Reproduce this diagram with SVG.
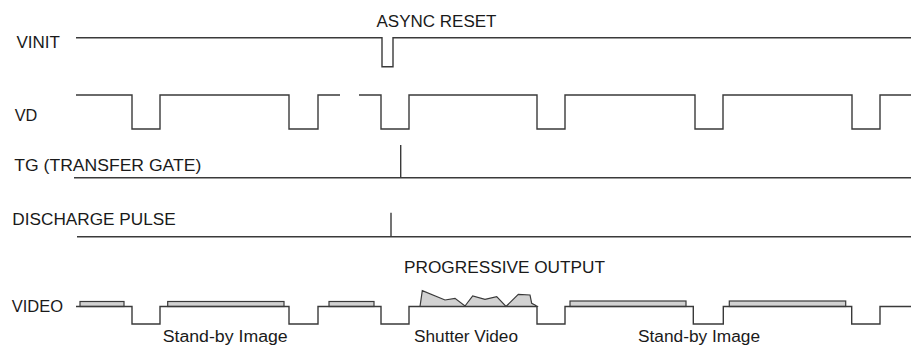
<svg xmlns="http://www.w3.org/2000/svg" width="911" height="345" viewBox="0 0 911 345">
<style>
.t{font-family:"Liberation Sans",Arial,sans-serif;font-size:16px;fill:#1a1a1a}
.w{fill:none;stroke:#3a3a3a;stroke-width:1.4}
.b{fill:#d2d2d2;stroke:#3a3a3a;stroke-width:1.2}
</style>
<rect width="911" height="345" fill="#fff"/>
<g id="labels">
<text class="t" x="16.5" y="47.5" textLength="43.5" lengthAdjust="spacingAndGlyphs">VINIT</text>
<text class="t" x="14.7" y="120.7" textLength="22.6" lengthAdjust="spacingAndGlyphs">VD</text>
<text class="t" x="376.5" y="27" textLength="120" lengthAdjust="spacingAndGlyphs">ASYNC RESET</text>
<text class="t" x="14.3" y="171" textLength="187" lengthAdjust="spacingAndGlyphs">TG (TRANSFER GATE)</text>
<text class="t" x="12.3" y="225" textLength="163.4" lengthAdjust="spacingAndGlyphs">DISCHARGE PULSE</text>
<text class="t" x="404" y="272.5" textLength="201" lengthAdjust="spacingAndGlyphs">PROGRESSIVE OUTPUT</text>
<text class="t" x="11.7" y="311.5" textLength="51.3" lengthAdjust="spacingAndGlyphs">VIDEO</text>
<text class="t" x="162.7" y="341.5" textLength="125" lengthAdjust="spacingAndGlyphs">Stand-by Image</text>
<text class="t" x="414" y="341.5" textLength="104" lengthAdjust="spacingAndGlyphs">Shutter Video</text>
<text class="t" x="638" y="341.5" textLength="122" lengthAdjust="spacingAndGlyphs">Stand-by Image</text>
</g>
<g id="vinit">
<path class="w" d="M76 37.7 H382 V66.7 H393 V37.7 H911"/>
</g>
<g id="vd">
<path class="w" d="M76 95 H132 V129 H160 V95 H289 V129 H318 V95 H340"/>
<path class="w" d="M359 95 H381 V129 H409 V95 H537 V129 H565 V95 H695 V129 H723 V95 H852 V129 H880 V95 H911"/>
</g>
<g id="tg">
<path class="w" d="M74 177.7 H911 M400.7 145 V177.7"/>
</g>
<g id="discharge">
<path class="w" d="M77 236.7 H911 M391 212.7 V236.7"/>
</g>
<g id="video">
<rect class="b" x="80" y="301.5" width="44" height="5"/>
<rect class="b" x="167.7" y="301.5" width="116.3" height="5"/>
<rect class="b" x="329" y="301.5" width="45" height="5"/>
<rect class="b" x="570" y="301" width="116" height="5.5"/>
<rect class="b" x="729.3" y="301" width="116.4" height="5.5"/>
<path class="b" d="M420 306.5 L422.3 290.7 L445 300 L455 298.3 L465 306 L472.7 296 L485 299.3 L496.7 296.7 L506 306.5 L518.3 294.3 L530 295 L531.7 303.3 L535 305 L537 306.5 Z"/>
<path class="w" d="M76 306.5 H132 V324 H160 V306.5 H289 V324 H318 V306.5 H381 V324 H409 V306.5 H537 V324 H565 V306.5 H693.3 V324 H723.3 V306.5 H851.7 V324 H880 V306.5 H911"/>
</g>
</svg>
